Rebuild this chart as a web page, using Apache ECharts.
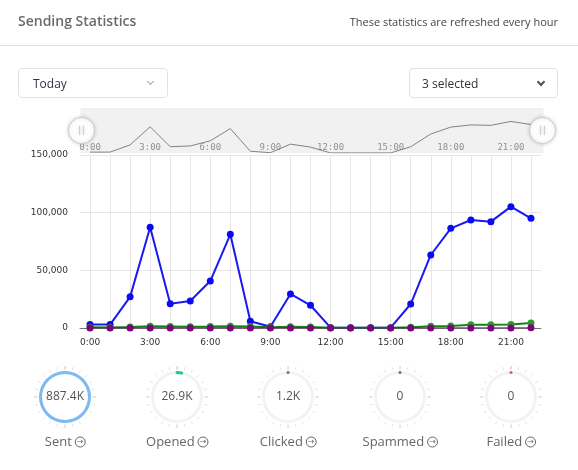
<!DOCTYPE html>
<html>
<head>
<meta charset="utf-8">
<script src="https://cdn.jsdelivr.net/npm/echarts@6/dist/echarts.min.js"></script>
<style>
  html, body { margin:0; padding:0; background:#fff; }
  body { width:578px; height:470px; position:relative; overflow:hidden; font-family:'Open Sans', sans-serif; }
  #chart { position:absolute; left:0; top:0; width:578px; height:470px; }
  .title { position:absolute; left:18px; top:11px; font-size:14px; font-weight:600; color:#6a6a6a; }
  .note { position:absolute; right:20px; top:14px; font-size:11px; color:#444; }
  .sep { position:absolute; left:0; top:45px; width:578px; height:1px; background:#dde1e6; }
  .sel { position:absolute; top:68px; width:148px; height:30px; border:1px solid #dfe3e8; border-radius:4px; box-sizing:border-box; font-size:12px; line-height:29px; }
  .sel .chev { position:absolute; top:10px; width:4px; height:4px; transform:rotate(45deg); }
</style>
</head>
<body>
<div id="chart"></div>
<div class="title">Sending Statistics</div>
<div class="note">These statistics are refreshed every hour</div>
<div class="sep"></div>
<div class="sel" style="left:18px;width:150px;color:#3b2d4d;padding-left:14px;">Today<span class="chev" style="right:14px;border-right:1px solid #aaa;border-bottom:1px solid #aaa;"></span></div>
<div class="sel" style="left:409px;width:149px;color:#333;padding-left:12px;">3 selected<span class="chev" style="right:13px;border-right:2px solid #555;border-bottom:2px solid #555;"></span></div>
<script>
const hours = ['0:00','1:00','2:00','3:00','4:00','5:00','6:00','7:00','8:00','9:00','10:00','11:00','12:00','13:00','14:00','15:00','16:00','17:00','18:00','19:00','20:00','21:00','22:00'];
const sentValues = [3000,3000,27000,87300,21100,23400,40700,81200,5800,1100,29500,19700,300,300,300,300,20800,63300,86400,93600,92200,105200,95100];
const openedValues = [600,500,900,1500,1300,1100,1200,1600,1200,700,1000,800,200,200,200,300,600,1500,1800,2800,2800,3000,4300];
const clickedValues = [40,30,50,90,60,50,70,100,60,20,50,40,10,10,10,10,30,60,70,80,80,90,110];
const yTicks = [0, 50000, 100000, 150000];

const gaugeNames = ['Sent','Opened','Clicked','Spammed','Failed'];
const gaugeValues = [887400, 26900, 1200, 0, 0];
const gaugeLabels = ['887.4K','26.9K','1.2K','0','0'];
const gaugeColors = ['#7db9f3','#20c997','#9b59b6','#6c757d','#f05454'];

const chart = echarts.init(document.getElementById('chart'));
const axisFont = 'DejaVu Sans';
const gaugeCenters = [65, 177, 288, 400, 511];

const gauges = gaugeNames.map((n, i) => ({
  type: 'gauge',
  center: [gaugeCenters[i], 397],
  radius: 26,
  startAngle: 90,
  endAngle: -270,
  min: 0,
  max: gaugeValues[0],
  splitNumber: 4,
  axisLine: { lineStyle: { width: 3, color: [[1, '#f3f3f3']] } },
  progress: { show: true, width: 3, roundCap: true, itemStyle: { color: gaugeColors[i] } },
  pointer: { show: false },
  anchor: { show: false },
  axisTick: { distance: -8, length: 3, splitNumber: 6, lineStyle: { color: '#e2e2e2', width: 1 } },
  splitLine: { distance: -8, length: 4, lineStyle: { color: '#e2e2e2', width: 1 } },
  axisLabel: { show: false },
  title: {
    offsetCenter: [0, 45], fontSize: 13, color: '#666', fontFamily: 'Open Sans',
    rich: { i: { width: 10, height: 10, lineHeight: 10, borderRadius: 6, borderWidth: 1, borderColor: '#666', align: 'center', fontSize: 8, color: '#666', fontFamily: 'DejaVu Sans' } }
  },
  detail: {
    offsetCenter: [0, 0], fontSize: 12, color: '#555', fontFamily: 'Open Sans', fontWeight: 'normal',
    formatter: () => gaugeLabels[i]
  },
  data: [{ value: gaugeValues[i], name: n + ' {i|→}' }]
}));

chart.setOption({
  animation: false,
  grid: [
    { left: 80, right: 37, top: 155, bottom: 142 },
    { left: 80, right: 37, top: 108, height: 45 }
  ],
  xAxis: [
    {
      type: 'category', gridIndex: 0, data: hours, boundaryGap: true,
      axisLine: { lineStyle: { color: '#777', width: 1 } },
      axisTick: { show: false },
      axisLabel: { interval: 2, color: '#333', fontSize: 9, fontFamily: axisFont, margin: 10 },
      splitLine: { show: true, alignWithLabel: true, interval: 0, lineStyle: { color: '#e6e6e6' } }
    },
    {
      type: 'category', gridIndex: 1, data: hours, boundaryGap: true,
      axisLine: { show: false }, axisTick: { show: false },
      axisLabel: { inside: true, interval: 2, color: '#999', fontSize: 9, fontFamily: 'DejaVu Sans Mono', margin: 1 },
      splitLine: { show: false }
    }
  ],
  yAxis: [
    {
      type: 'value', gridIndex: 0, min: yTicks[0], max: yTicks[yTicks.length - 1], interval: yTicks[1] - yTicks[0],
      axisLine: { show: false }, axisTick: { show: false },
      axisLabel: { color: '#333', fontSize: 9, fontFamily: axisFont, margin: 12, formatter: v => v.toLocaleString('en-US') },
      splitLine: { lineStyle: { color: '#e6e6e6' } }
    },
    { type: 'value', gridIndex: 1, min: 0, max: yTicks[yTicks.length - 1], show: false, splitLine: { show: false } }
  ],
  dataZoom: [{
    type: 'slider', xAxisIndex: 0, left: 79, right: 36, top: 108, height: 45,
    start: 0, end: 100,
    backgroundColor: 'rgba(0,0,0,0.055)', borderColor: 'transparent', fillerColor: 'rgba(0,0,0,0)',
    showDataShadow: false, showDetail: false, brushSelect: false,
    moveHandleSize: 0, moveHandleStyle: { opacity: 0 },
    handleIcon: 'path://M0,-10A10,10 0 1,1 0,10A10,10 0 1,1 0,-10Z M-1.5,-3.5L-1.5,3.5M1.5,-3.5L1.5,3.5',
    handleSize: 26,
    handleStyle: { color: '#fff', borderColor: '#ccc', borderWidth: 1, shadowBlur: 4, shadowColor: 'rgba(0,0,0,0.2)' },
    emphasis: { handleStyle: { color: '#fff', borderColor: '#ccc' } },
    textStyle: { color: 'transparent' }
  }],
  series: [
    {
      type: 'line', name: 'Sent', xAxisIndex: 1, yAxisIndex: 1, data: sentValues,
      symbol: 'none', lineStyle: { color: '#8a8a8a', width: 1 }, silent: true, z: 1
    },
    {
      type: 'line', name: 'Sent', data: sentValues, symbol: 'circle', symbolSize: 7, showAllSymbol: true,
      itemStyle: { color: '#0a0af5' }, lineStyle: { color: '#1a1af0', width: 2 }, z: 3
    },
    {
      type: 'line', name: 'Opened', data: openedValues, symbol: 'circle', symbolSize: 7, showAllSymbol: true,
      itemStyle: { color: '#2a9a2a' }, lineStyle: { color: '#1d7d1d', width: 2 }, z: 4
    },
    {
      type: 'line', name: 'Clicked', data: clickedValues, symbol: 'circle', symbolSize: 7, showAllSymbol: true,
      itemStyle: { color: '#800080' }, lineStyle: { color: '#800080', width: 1 }, z: 5
    },
    ...gauges
  ]
});
</script>
</body>
</html>
